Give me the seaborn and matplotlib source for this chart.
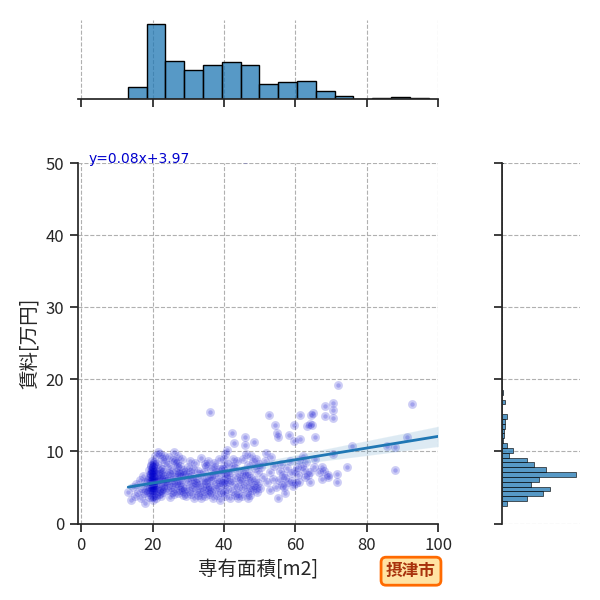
###################################################################################################
# Required Libraries
###################################################################################################
import numpy as np
import pandas as pd
import matplotlib
matplotlib.use("Agg")
import matplotlib.pyplot as plt
import seaborn as sns

###################################################################################################
# Data (専有面積 vs 賃料, 摂津市)
###################################################################################################
area_m2 = [
    13.2, 14.0, 14.5, 15.0, 15.5, 16.0, 16.5, 16.8, 17.0, 17.2, 17.5, 17.9, 18.0, 18.2,
    20.0, 20.0, 20.0, 20.0, 20.0, 20.0, 20.0, 20.0, 20.0, 20.0, 19.7, 20.3, 19.8, 20.2,
    19.7, 20.3, 19.8, 20.2, 19.9, 20.1, 19.8, 20.2, 19.9, 20.1, 19.7, 20.3, 19.8, 20.2,
    18.6, 18.8, 19.0, 19.2, 19.4, 19.5, 19.7, 19.8, 20.3, 20.5,
    20.6, 20.8, 21.0, 21.0, 21.2, 21.3, 21.5, 21.6, 21.8, 22.0,
    22.0, 22.2, 22.4, 22.5, 22.7, 22.8, 23.0, 23.0, 23.2, 23.4,
    23.5, 19.1, 21.9, 20.9, 22.3, 18.9, 23.3, 21.4, 19.6, 22.6,
    20.1, 20.2, 20.4, 21.1, 21.7, 22.1, 22.9, 23.1, 18.7, 19.3,
    23.8, 24.0, 24.2, 24.4, 24.5, 24.8, 25.0, 25.1, 25.3, 25.5,
    25.6, 25.8, 26.0, 26.1, 26.3, 26.5, 26.6, 26.8, 27.0, 27.0,
    27.2, 27.4, 27.5, 27.7, 27.8, 28.0, 28.2, 28.3, 28.5, 28.6,
    28.8, 24.6, 25.4, 26.9, 27.9, 24.1, 26.2, 28.4, 25.9, 27.3,
    29.0, 29.2, 29.5, 29.7, 30.0, 30.1, 30.4, 30.5, 30.8, 31.0,
    31.2, 31.4, 31.6, 31.8, 32.0, 32.1, 32.4, 32.6, 32.8, 33.0,
    33.2, 33.4, 33.6, 33.8, 34.0, 29.9, 31.1, 32.3, 33.5, 30.6,
    34.3, 34.5, 34.7, 34.9, 35.1, 35.3, 35.5, 35.7, 35.9, 36.0,
    36.1, 36.3, 36.5, 36.7, 36.9, 37.1, 37.3, 37.5, 37.7, 37.9,
    38.1, 38.3, 38.5, 38.7, 38.9, 39.1, 39.3, 35.0, 36.4, 37.6,
    38.8, 34.6, 39.0, 35.8,
    39.6, 39.8, 40.0, 40.0, 40.0, 40.1, 40.2, 40.2, 40.3, 40.4,
    40.8, 40.6, 40.9, 41.2, 41.4, 41.6, 41.8, 42.0, 42.2, 42.3,
    42.5, 42.7, 42.8, 43.0, 43.2, 43.4, 43.6, 43.8, 44.0, 44.2,
    44.4, 44.0, 41.0, 42.6,
    44.8, 45.0, 45.2, 45.4, 45.6, 45.8, 46.0, 46.0, 46.1, 46.3,
    46.5, 46.7, 46.9, 47.1, 47.3, 47.5, 47.7, 47.9, 48.1, 48.3,
    48.4, 48.6, 48.8, 49.0, 49.2, 49.4, 49.6, 49.8, 45.7, 47.2,
    48.9, 46.6, 46.0,
    50.2, 50.5, 51.0, 51.5, 52.0, 52.5, 52.8, 53.2, 53.6, 54.0,
    54.2, 54.5, 54.9, 55.0, 55.1, 51.8, 53.0,
    55.5, 55.8, 56.2, 56.5, 56.9, 57.2, 57.6, 58.0, 58.1, 58.4,
    58.7, 59.0, 59.3, 59.5, 59.6, 59.9, 60.2, 60.4, 57.0, 56.0,
    60.7, 61.0, 61.2, 61.4, 61.9, 62.0, 62.3, 62.6, 63.0, 63.3,
    63.6, 64.0, 64.2, 64.2, 64.4, 64.7, 65.0, 65.1, 65.6, 65.6, 60.9,
    66.5, 67.5, 67.5, 68.0, 68.2, 68.4, 69.0, 69.0, 70.5, 70.5, 70.5, 70.5,
    71.7, 71.7, 72.0, 74.5, 75.9,
    85.7, 87.8, 88.0, 91.3, 92.5,
]
rent_man = [
    4.3, 3.2, 5.1, 3.8, 5.5, 4.4, 6.0, 3.5, 4.9, 6.6, 4.2, 2.9, 5.8, 4.6,
    3.3, 3.8, 4.3, 4.7, 5.0, 5.3, 5.6, 5.9, 6.2, 6.5, 6.8, 7.1, 7.4, 7.8,
    8.1, 8.5, 4.6, 5.3, 6.0, 6.6, 7.2, 7.9, 3.7, 5.6, 6.9, 8.3, 5.0, 7.4,
    4.4, 6.0, 3.7, 6.8, 5.1, 8.0, 5.5, 8.7, 4.6, 6.5,
    9.3, 5.3, 3.5, 7.3, 4.9, 8.3, 6.1, 6.9, 4.1, 7.7,
    5.6, 9.6, 4.7, 6.3, 8.9, 5.2, 7.2, 4.3, 6.6, 8.5,
    5.9, 7.4, 6.2, 4.0, 3.8, 6.3, 9.3, 9.9, 5.9, 7.6,
    6.1, 7.1, 5.0, 5.8, 4.5, 6.8, 4.9, 5.7, 5.2, 4.4,
    6.2, 4.6, 8.1, 5.4, 9.2, 3.7, 6.9, 5.0, 7.6, 4.3,
    8.8, 5.8, 6.5, 9.9, 4.9, 7.2, 5.6, 8.4, 4.2, 6.0,
    9.4, 5.3, 7.0, 4.7, 8.0, 6.4, 5.1, 9.0, 7.4, 4.5,
    6.7, 7.0, 6.1, 7.8, 5.7, 5.9, 8.7, 3.9, 4.1, 6.8,
    4.8, 7.1, 3.8, 5.9, 7.9, 4.5, 8.7, 5.4, 4.1, 6.6,
    5.1, 7.5, 3.6, 5.8, 8.4, 4.7, 6.3, 3.9, 7.3, 5.3,
    4.3, 6.9, 9.1, 5.0, 6.1, 6.4, 6.2, 5.6, 3.5, 7.2,
    4.5, 7.1, 3.8, 5.6, 8.0, 5.0, 8.7, 4.1, 6.4, 15.4,
    5.2, 7.5, 4.3, 6.0, 3.6, 6.8, 8.4, 4.8, 5.5, 7.2,
    3.9, 6.2, 5.1, 8.9, 5.8, 4.4, 7.0, 6.1, 6.6, 7.8,
    3.2, 8.2, 7.6, 4.7,
    5.6, 7.5, 4.4, 6.0, 8.0, 9.0, 5.5, 7.0, 3.8, 9.6,
    10.2, 6.5, 4.8, 8.3, 5.7, 3.5, 7.2, 6.1, 12.5, 4.5,
    9.0, 11.1, 5.4, 7.7, 3.9, 6.4, 8.6, 5.0, 4.2, 7.0,
    5.9, 3.6, 6.8, 8.0,
    6.2, 3.8, 8.9, 4.9, 7.4, 5.5, 12.0, 10.9, 6.6, 9.7,
    4.4, 8.1, 5.9, 7.0, 3.9, 9.3, 6.3, 4.7, 8.5, 11.3,
    5.3, 7.7, 6.0, 9.0, 4.3, 7.2, 5.6, 8.3, 6.9, 5.1,
    4.9, 3.6, 50.6,
    4.9, 7.8, 6.4, 8.6, 5.7, 15.0, 7.1, 9.2, 6.2, 8.0,
    13.7, 5.1, 12.5, 12.0, 3.5, 9.8, 4.6,
    6.1, 7.3, 5.3, 6.7, 5.0, 6.3, 7.7, 5.7, 12.3, 8.6,
    7.0, 5.9, 5.2, 13.7, 11.5, 7.3, 5.6, 7.9, 4.2, 8.3,
    6.7, 5.8, 15.0, 11.7, 8.0, 9.4, 7.4, 6.4, 8.5, 13.5,
    6.7, 5.7, 13.8, 7.2, 15.1, 13.6, 15.3, 7.9, 12.0, 9.0, 8.8,
    7.1, 7.8, 6.2, 7.3, 14.9, 16.3, 6.7, 6.5, 16.7, 15.8, 14.6, 9.7,
    6.9, 5.8, 19.2, 7.8, 10.7,
    10.8, 10.6, 7.4, 12.0, 16.6,
]

# marginal histogram counts (bars)
area_bin_start = 13.1
area_bin_width = 5.26
area_counts = [14, 88, 44, 34, 40, 43, 40, 17, 20, 21, 9, 4, 0, 1, 2, 1]

rent_bin_start = 2.45
rent_bin_width = 0.67
rent_counts = [5, 23, 38, 44, 27, 34, 68, 41, 30, 23,
               7, 10, 5, 1, 2, 2, 3, 3, 5, 0,
               0, 3, 0, 1] + [0] * 47 + [1]

city_name = "摂津市"
x_label = "専有面積[m2]"
y_label = "賃料[万円]"
line_end = 100


###################################################################################################
# Function name = SetStyle
# description = seaborn theme + japanese font
###################################################################################################
def SetStyle():
    sns.set_theme(style="ticks", palette="tab10", rc={
        "axes.grid": True,
        "grid.linestyle": "--",
        "grid.color": "#b0b0b0",
        "grid.linewidth": 0.8,
        "xtick.labelsize": 12,
        "ytick.labelsize": 12,
        "axes.labelsize": 14,
    })
    plt.rcParams["font.family"] = ["Noto Sans CJK JP", "DejaVu Sans"]


###################################################################################################
# Function name = MarginalHist
# description = draws the marginal bars from bin counts
###################################################################################################
def MarginalHist(ax, start, width, counts, vertical):
    edges = start + width * np.arange(len(counts) + 1)
    df = pd.DataFrame({"mid": (edges[:-1] + edges[1:]) / 2, "count": counts})
    if vertical:
        sns.histplot(data=df, y="mid", weights="count", bins=list(edges), ax=ax,
                     color="tab:blue", edgecolor="black", alpha=0.75)
    else:
        sns.histplot(data=df, x="mid", weights="count", bins=list(edges), ax=ax,
                     color="tab:blue", edgecolor="black", alpha=0.75)
    ax.set_xlabel("")
    ax.set_ylabel("")


###################################################################################################
# Function name = main
###################################################################################################
def main():
    SetStyle()

    g = sns.JointGrid(height=6)
    fig = g.figure
    fig.set_size_inches(6, 6)

    #1) joint scatter + regression line (line runs from the smallest room to 100 m2)
    g.ax_joint.set_xlim(min(area_m2), line_end)
    g.ax_joint.set_ylim(0, 50)
    sns.regplot(x=area_m2, y=rent_man, ax=g.ax_joint, truncate=False, color="tab:blue",
                scatter_kws=dict(color="mediumblue", alpha=0.2, s=10, linewidths=3.2),
                line_kws=dict(linewidth=2))

    slope, intercept = np.polyfit(area_m2, rent_man, 1)
    g.ax_joint.text(2, 50, f"y={slope:.2f}x+{intercept:.2f}", color="mediumblue",
                    fontsize=10, family="DejaVu Sans")

    #2) marginal histograms
    MarginalHist(g.ax_marg_x, area_bin_start, area_bin_width, area_counts, False)
    MarginalHist(g.ax_marg_y, rent_bin_start, rent_bin_width, rent_counts, True)

    g.ax_joint.set_xlim(-1, 100)
    g.ax_joint.set_ylim(0, 50)
    g.ax_joint.set_xticks([0, 20, 40, 60, 80, 100])
    g.ax_joint.set_yticks([0, 10, 20, 30, 40, 50])
    g.ax_joint.set_xlabel(x_label)
    g.ax_joint.set_ylabel(y_label)

    #3) layout in pixels of the 600x600 picture
    g.ax_joint.set_position([77.5 / 600, 76.5 / 600, 360.8 / 600, 360.5 / 600])
    g.ax_marg_x.set_position([77.5 / 600, 501 / 600, 360.8 / 600, 79 / 600])
    g.ax_marg_y.set_position([501.7 / 600, 76.5 / 600, 78 / 600, 360.5 / 600])

    #4) city badge
    fig.text(0.685, 0.048, city_name, ha="center", va="center", fontsize=12,
             fontweight="bold", color="#a8320c",
             bbox=dict(boxstyle="round,pad=0.3", facecolor="#ffe3a3",
                       edgecolor="#ff6a00", linewidth=2))

    fig.savefig("out.png", dpi=100)


if __name__ == "__main__":
    main()
